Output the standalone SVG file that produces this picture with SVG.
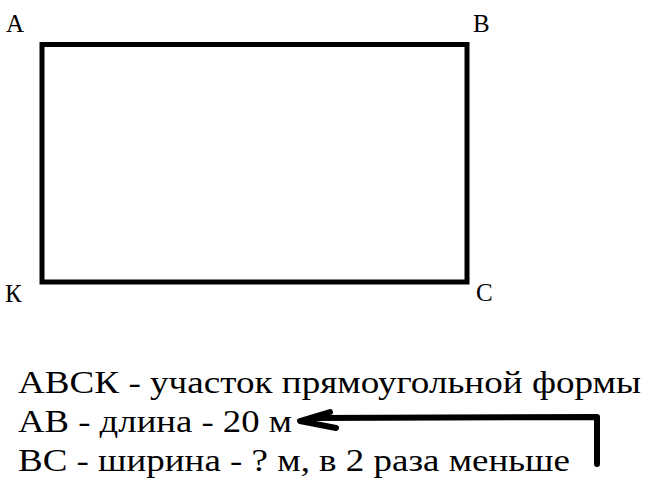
<svg xmlns="http://www.w3.org/2000/svg" width="651" height="484" viewBox="0 0 651 484">
<style>
.lbl{font-family:"Liberation Serif","DejaVu Serif","Times New Roman",serif;font-size:25px;fill:#000}
.txt{font-family:"Liberation Serif","DejaVu Serif","Times New Roman",serif;font-size:31px;fill:#000}
</style>
<rect width="651" height="484" fill="#fff"/>
<g id="plot">
<rect x="42" y="44.5" width="425" height="237.5" fill="none" stroke="#000" stroke-width="5"/>
</g>
<g id="labels">
<text class="lbl" x="6" y="32">А</text>
<text class="lbl" x="473" y="32">В</text>
<text class="lbl" x="5" y="302">К</text>
<text class="lbl" x="476" y="301">С</text>
</g>
<g id="notes">
<text class="txt" x="18" y="393" textLength="623" lengthAdjust="spacingAndGlyphs">АВСК - участок прямоугольной формы</text>
<text class="txt" x="18" y="432" textLength="274" lengthAdjust="spacingAndGlyphs">АВ - длина - 20 м</text>
<text class="txt" x="18" y="471" textLength="552" lengthAdjust="spacingAndGlyphs">ВС - ширина - ? м, в 2 раза меньше</text>
</g>
<g id="connectors" fill="none" stroke="#000" stroke-width="6" stroke-linecap="round" stroke-linejoin="round">
<path d="M597 464 L597 417 L312 418"/>
<path d="M330 412 L300 421 L336 428"/>
</g>
</svg>
